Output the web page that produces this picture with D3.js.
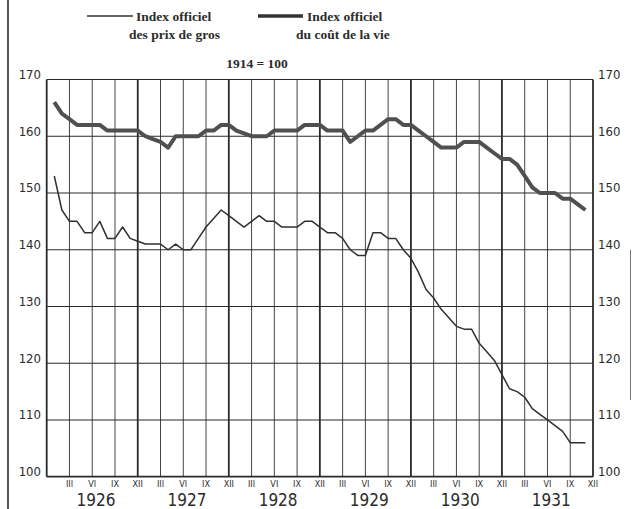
<!DOCTYPE html>
<html>
<head>
<meta charset="utf-8">
<script src="https://cdn.jsdelivr.net/npm/d3@7"></script>
<style>
    body { margin: 0; background: #fff; }
    svg { display: block; }
</style>
</head>
<body>
<div id="chart"></div>
<script>
// monthly values, January 1926 .. November 1931 (1914 = 100)
var wholesale = [
    153, 147, 145, 145, 143, 143, 145, 142, 142, 144, 142, 141.5,
    141, 141, 141, 140, 141, 140, 140, 142, 144, 145.5, 147, 146,
    145, 144, 145, 146, 145, 145, 144, 144, 144, 145, 145, 144,
    143, 143, 142, 140, 139, 139, 143, 143, 142, 142, 140, 138.5,
    136, 133, 131.5, 129.5, 128, 126.5, 126, 126, 123.5, 122, 120.5, 118,
    115.5, 115, 114, 112, 111, 110, 109, 108, 106, 106, 106
]
var costOfLiving = [
    166, 164, 163, 162, 162, 162, 162, 161, 161, 161, 161, 161,
    160, 159.5, 159, 158, 160, 160, 160, 160, 161, 161, 162, 162,
    161, 160.5, 160, 160, 160, 161, 161, 161, 161, 162, 162, 162,
    161, 161, 161, 159, 160, 161, 161, 162, 163, 163, 162, 162,
    161, 160, 159, 158, 158, 158, 159, 159, 159, 158, 157, 156,
    156, 155, 153, 151, 150, 150, 150, 149, 149, 148, 147
]
var years = ["1926", "1927", "1928", "1929", "1930", "1931"]
var quarterLabels = ["III", "VI", "IX", "XII"]
var yTicks = [100, 110, 120, 130, 140, 150, 160, 170]

//---------------------------------------------------
// init parameters
//---------------------------------------------------
var width = 632,
    height = 509
var plotLeft = 46.7,
    plotRight = 593,
    plotTop = 79.5,
    plotBottom = 476.7
var ink = "#2b2b2b"
var serif = "'Liberation Serif', 'Times New Roman', serif"
var sans = "'DejaVu Sans', sans-serif"

var x = d3.scaleLinear().domain([0, years.length * 12]).range([plotLeft, plotRight])
var y = d3.scaleLinear().domain([100, 170]).range([plotBottom, plotTop])

var svg = d3.select("#chart")
    .append("svg")
    .attr("width", width)
    .attr("height", height)

// scan frame on the left / right
svg.append("line")
    .attr("x1", 8).attr("x2", 8).attr("y1", 0).attr("y2", height)
    .style("stroke", ink).style("stroke-width", 1.6)
svg.append("line")
    .attr("x1", 630.5).attr("x2", 630.5).attr("y1", 250).attr("y2", 400)
    .style("stroke", "#777").style("stroke-width", 1)

//------------------------------------------
// grid
//------------------------------------------
var quarters = d3.range(0, years.length * 4 + 1)

svg.selectAll(".vgrid")
    .data(quarters)
    .enter()
    .append("line")
    .attr("class", "vgrid")
    .attr("x1", (q) => x(q * 3))
    .attr("x2", (q) => x(q * 3))
    .attr("y1", plotTop)
    .attr("y2", plotBottom)
    .style("stroke", (q) => (q % 4 == 0 ? ink : "#444"))
    .style("stroke-width", (q) => (q % 4 == 0 ? 1.8 : 1))

svg.selectAll(".hgrid")
    .data(yTicks)
    .enter()
    .append("line")
    .attr("class", "hgrid")
    .attr("x1", plotLeft)
    .attr("x2", plotRight)
    .attr("y1", (d) => y(d))
    .attr("y2", (d) => y(d))
    .style("stroke", ink)
    .style("stroke-width", (d) => (d == 100 ? 1.8 : 1.1))

//------------------------------------------
// axis labels
//------------------------------------------
var yl = svg.append("g")
    .style("font-family", sans)
    .style("font-stretch", "condensed")
    .style("font-size", "13px")
    .style("fill", ink)

yl.selectAll(".ly")
    .data(yTicks)
    .enter()
    .append("text")
    .attr("x", 41)
    .attr("y", (d) => y(d) - 0.5)
    .attr("text-anchor", "end")
    .text((d) => d)

yl.selectAll(".ry")
    .data(yTicks)
    .enter()
    .append("text")
    .attr("x", 598)
    .attr("y", (d) => y(d) - 0.5)
    .attr("text-anchor", "start")
    .text((d) => d)

svg.selectAll(".qlabel")
    .data(quarters.slice(1))
    .enter()
    .append("text")
    .attr("x", (q) => x(q * 3))
    .attr("y", 486.5)
    .attr("text-anchor", "middle")
    .style("font-family", sans)
    .style("font-stretch", "condensed")
    .style("font-size", "9px")
    .style("fill", ink)
    .text((q) => quarterLabels[(q - 1) % 4])

svg.selectAll(".year")
    .data(years)
    .enter()
    .append("text")
    .attr("x", (d, i) => x(i * 12 + 6.5))
    .attr("y", 505.5)
    .attr("text-anchor", "middle")
    .style("font-family", sans)
    .style("font-stretch", "condensed")
    .style("font-size", "17px")
    .style("fill", ink)
    .text((d) => d)

//------------------------------------------
// the two series
//------------------------------------------
var line = d3.line()
    .x((d, i) => x(i + 1))
    .y((d) => y(d))

svg.append("path")
    .datum(costOfLiving)
    .attr("d", line)
    .style("fill", "none")
    .style("stroke", "#505050")
    .style("stroke-width", 4)
    .style("stroke-linejoin", "round")

svg.append("path")
    .datum(wholesale)
    .attr("d", line)
    .style("fill", "none")
    .style("stroke", "#303030")
    .style("stroke-width", 1.5)
    .style("stroke-linejoin", "round")

//------------------------------------------
// legend and base
//------------------------------------------
var legend = [
    { "x1": 87, "x2": 133, "w": 1.5, "tx": 136, "l1": "Index officiel", "sx": 129, "l2": "des prix de gros" },
    { "x1": 258, "x2": 303, "w": 3.5, "tx": 307, "l1": "Index officiel", "sx": 296, "l2": "du coût de la vie" }
]
var lg = svg.selectAll(".legend")
    .data(legend)
    .enter()
    .append("g")
    .attr("class", "legend")
    .style("font-family", serif)
    .style("font-weight", "bold")
    .style("font-size", "13.5px")
    .style("fill", ink)

lg.append("line")
    .attr("x1", (d) => d.x1).attr("x2", (d) => d.x2)
    .attr("y1", 16).attr("y2", 16)
    .style("stroke", "#333")
    .style("stroke-width", (d) => d.w)
lg.append("text").attr("x", (d) => d.tx).attr("y", 21).text((d) => d.l1)
lg.append("text").attr("x", (d) => d.sx).attr("y", 39).text((d) => d.l2)

svg.append("text")
    .attr("x", 257)
    .attr("y", 68)
    .attr("text-anchor", "middle")
    .style("font-family", serif)
    .style("font-weight", "bold")
    .style("font-size", "13.5px")
    .style("fill", ink)
    .text("1914 = 100")
</script>
</body>
</html>
